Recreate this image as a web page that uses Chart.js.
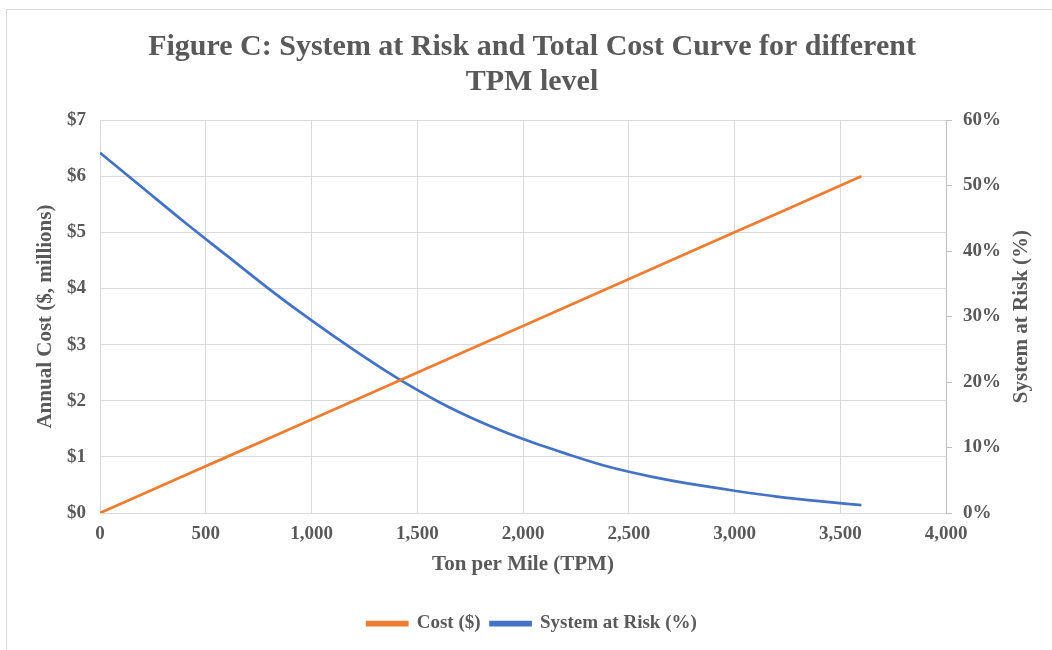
<!DOCTYPE html>
<html>
<head>
<meta charset="utf-8">
<script src="https://cdn.jsdelivr.net/npm/chart.js@4.4.1/dist/chart.umd.min.js"></script>
<style>
  html, body { margin: 0; padding: 0; background: #ffffff; overflow: hidden; width: 1052px; height: 650px; }
  #frame { position: absolute; left: 6px; top: 9px; width: 1100px; height: 700px; border-top: 1px solid #d9d9d9; border-left: 1px solid #d9d9d9; }
  #wrap { position: absolute; left: 12px; top: 0px; width: 1040px; height: 650px; }
</style>
</head>
<body>
<div id="frame"></div>
<div id="wrap"><canvas id="c" width="1040" height="650"></canvas></div>
<script>
// ---- data ----
const tpm = [0, 200, 400, 600, 800, 1000, 1200, 1400, 1600, 1800, 2000, 2200, 2400, 2600, 2800, 3000, 3200, 3400, 3600];
const costMillions = [0, 0.333, 0.667, 1.0, 1.333, 1.667, 2.0, 2.333, 2.667, 3.0, 3.333, 3.667, 4.0, 4.333, 4.667, 5.0, 5.333, 5.667, 6.0];
const riskPercent = [55.0, 49.7, 44.4, 39.3, 34.2, 29.4, 24.9, 20.7, 17.0, 13.9, 11.3, 9.1, 7.1, 5.6, 4.4, 3.4, 2.5, 1.8, 1.2];
const seriesNames = ['Cost ($)', 'System at Risk (%)'];
const titleLines = ['Figure C: System at Risk and Total Cost Curve for different', 'TPM level'];
const xTitle = 'Ton per Mile (TPM)';
const yLeftTitle = 'Annual Cost ($, millions)';
const yRightTitle = 'System at Risk (%)';

const FONT = "'Liberation Serif', 'Times New Roman', serif";
const TXT = '#595959';
const GRID = '#d9d9d9';
const ORANGE = '#ED7D31';
const BLUE = '#4472C4';

const rightTitlePlugin = {
  id: 'rightTitle',
  afterDraw(chart) {
    const s = chart.scales.yRight;
    const ctx = chart.ctx;
    ctx.save();
    ctx.font = "bold 21px " + FONT;
    ctx.fillStyle = TXT;
    ctx.textAlign = 'center';
    ctx.textBaseline = 'middle';
    ctx.translate(s.right - 30, (chart.chartArea.top + chart.chartArea.bottom) / 2);
    ctx.rotate(-Math.PI / 2);
    ctx.fillText(yRightTitle, 0, 0);
    ctx.restore();
  }
};

new Chart(document.getElementById('c'), {
  type: 'line',
  data: {
    datasets: [
      {
        label: seriesNames[0],
        data: tpm.map((x, i) => ({ x: x, y: costMillions[i] })),
        borderColor: ORANGE,
        backgroundColor: ORANGE,
        borderWidth: 2.75,
        pointRadius: 0,
        yAxisID: 'yLeft',
        tension: 0
      },
      {
        label: seriesNames[1],
        data: tpm.map((x, i) => ({ x: x, y: riskPercent[i] })),
        borderColor: BLUE,
        backgroundColor: BLUE,
        borderWidth: 2.75,
        pointRadius: 0,
        yAxisID: 'yRight',
        cubicInterpolationMode: 'monotone'
      }
    ]
  },
  options: {
    responsive: false,
    animation: false,
    events: [],
    layout: { padding: { left: 0, right: 0, top: 0, bottom: 7 } },
    plugins: {
      title: {
        display: true,
        text: titleLines,
        color: TXT,
        font: { family: FONT, size: 30, weight: 'bold', lineHeight: 1.17 },
        padding: { top: 30, bottom: 19.9 }
      },
      legend: {
        display: true,
        position: 'bottom',
        labels: {
          color: TXT,
          font: { family: FONT, size: 19, weight: 'bold' },
          boxWidth: 40,
          boxHeight: 3,
          padding: 10
        }
      },
      tooltip: { enabled: false }
    },
    scales: {
      x: {
        type: 'linear',
        min: 0, max: 4000,
        afterFit(s) { s.height = 91; },
        ticks: {
          stepSize: 500,
          color: TXT,
          padding: 10,
          maxRotation: 0,
          font: { family: FONT, size: 19, weight: 'bold' },
          callback: v => v.toLocaleString('en-US')
        },
        grid: { color: GRID, drawTicks: false },
        border: { color: GRID },
        title: {
          display: true,
          text: xTitle,
          color: TXT,
          font: { family: FONT, size: 21, weight: 'bold' },
          padding: { top: 0, bottom: 27 }
        }
      },
      yLeft: {
        position: 'left',
        min: 0, max: 7,
        afterFit(s) { s.width = 88; },
        ticks: {
          stepSize: 1,
          color: TXT,
          padding: 14,
          font: { family: FONT, size: 19, weight: 'bold' },
          callback: v => '$' + v
        },
        grid: { color: GRID, drawTicks: false },
        border: { color: GRID },
        title: {
          display: true,
          text: yLeftTitle,
          color: TXT,
          font: { family: FONT, size: 21, weight: 'bold' },
          padding: { top: 21, bottom: 0 }
        }
      },
      yRight: {
        position: 'right',
        min: 0, max: 60,
        afterFit(s) { s.width = 106; },
        ticks: {
          stepSize: 10,
          color: TXT,
          padding: 11,
          font: { family: FONT, size: 19, weight: 'bold' },
          callback: v => v + '%'
        },
        grid: { color: '#bfbfbf', drawOnChartArea: false, drawTicks: true, tickLength: 6 },
        border: { color: '#bfbfbf' }
      }
    }
  },
  plugins: [rightTitlePlugin]
});
</script>
</body>
</html>
